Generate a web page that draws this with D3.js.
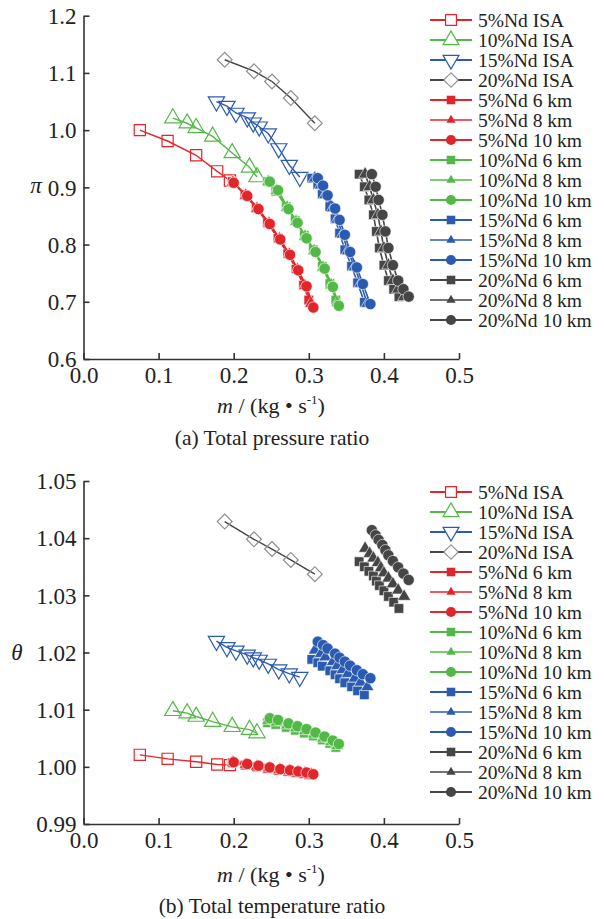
<!DOCTYPE html>
<html>
<head>
<meta charset="utf-8">
<script src="https://cdn.jsdelivr.net/npm/d3@7"></script>
<style>
  html, body { margin: 0; padding: 0; background: #fff; }
  svg { display: block; }
  text { font-family: "Liberation Serif", "Times New Roman", serif; fill: #222; }
</style>
</head>
<body>
<svg id="chart" width="604" height="919"></svg>
<script>
// ---------------- DATA ----------------
const xTicks = [0.0, 0.1, 0.2, 0.3, 0.4, 0.5];
const piTicks = [0.6, 0.7, 0.8, 0.9, 1.0, 1.1, 1.2];
const thetaTicks = [0.99, 1.00, 1.01, 1.02, 1.03, 1.04, 1.05];

// 5%Nd
const m_05_ISA = [0.075, 0.112, 0.150, 0.178, 0.195];
const pi_05_ISA = [1.000, 0.981, 0.956, 0.928, 0.912];
const th_05_ISA = [1.0021, 1.0014, 1.0009, 1.0004, 1.0003];
const m_05_6 = [0.198, 0.215, 0.230, 0.245, 0.259, 0.272, 0.283, 0.293, 0.300];
const pi_05_6 = [0.910, 0.887, 0.864, 0.838, 0.811, 0.784, 0.757, 0.729, 0.703];
const th_05_6 = [1.0007, 1.0003, 1.0000, 0.9997, 0.9994, 0.9992, 0.9990, 0.9988, 0.9986];
const m_05_8 = [0.199, 0.216, 0.231, 0.247, 0.261, 0.274, 0.285, 0.295, 0.303];
const pi_05_8 = [0.909, 0.886, 0.863, 0.837, 0.810, 0.783, 0.756, 0.728, 0.697];
const th_05_8 = [1.0008, 1.0004, 1.0001, 0.9998, 0.9995, 0.9993, 0.9991, 0.9989, 0.9987];
const m_05_10 = [0.200, 0.218, 0.233, 0.248, 0.262, 0.275, 0.286, 0.297, 0.306];
const pi_05_10 = [0.908, 0.885, 0.862, 0.836, 0.809, 0.782, 0.755, 0.727, 0.690];
const th_05_10 = [1.0008, 1.0005, 1.0002, 0.9999, 0.9996, 0.9994, 0.9992, 0.9990, 0.9987];

// 10%Nd
const m_10_ISA = [0.119, 0.138, 0.150, 0.172, 0.198, 0.221, 0.231];
const pi_10_ISA = [1.021, 1.012, 1.004, 0.989, 0.960, 0.935, 0.918];
const th_10_ISA = [1.0098, 1.0094, 1.0088, 1.0079, 1.0070, 1.0065, 1.0059];
const m_10_6 = [0.245, 0.256, 0.270, 0.282, 0.294, 0.306, 0.318, 0.328, 0.336];
const pi_10_6 = [0.910, 0.893, 0.866, 0.842, 0.816, 0.791, 0.762, 0.732, 0.703];
const th_10_6 = [1.0077, 1.0074, 1.0069, 1.0064, 1.0059, 1.0054, 1.0047, 1.0041, 1.0034];
const m_10_8 = [0.246, 0.257, 0.271, 0.283, 0.295, 0.307, 0.319, 0.330, 0.338];
const pi_10_8 = [0.910, 0.894, 0.865, 0.840, 0.814, 0.789, 0.760, 0.729, 0.698];
const th_10_8 = [1.0081, 1.0078, 1.0073, 1.0068, 1.0063, 1.0057, 1.0050, 1.0044, 1.0037];
const m_10_10 = [0.248, 0.259, 0.273, 0.285, 0.297, 0.309, 0.321, 0.332, 0.340];
const pi_10_10 = [0.910, 0.895, 0.862, 0.838, 0.811, 0.787, 0.758, 0.726, 0.693];
const th_10_10 = [1.0085, 1.0082, 1.0076, 1.0071, 1.0066, 1.0060, 1.0053, 1.0046, 1.0040];

// 15%Nd
const m_15_ISA = [0.177, 0.191, 0.203, 0.218, 0.226, 0.234, 0.246, 0.260, 0.274, 0.288];
const pi_15_ISA = [1.050, 1.042, 1.030, 1.022, 1.013, 1.006, 0.994, 0.968, 0.939, 0.918];
const th_15_ISA = [1.0220, 1.0209, 1.0203, 1.0196, 1.0191, 1.0187, 1.0180, 1.0170, 1.0163, 1.0157];
const m_15_6 = [0.304, 0.312, 0.318, 0.328, 0.335, 0.341, 0.348, 0.357, 0.365, 0.374];
const pi_15_6 = [0.916, 0.905, 0.888, 0.866, 0.845, 0.820, 0.791, 0.762, 0.733, 0.699];
const th_15_6 = [1.0188, 1.0182, 1.0176, 1.0168, 1.0161, 1.0154, 1.0147, 1.0140, 1.0133, 1.0126];
const m_15_8 = [0.308, 0.316, 0.322, 0.332, 0.338, 0.345, 0.352, 0.361, 0.369, 0.378];
const pi_15_8 = [0.916, 0.904, 0.887, 0.864, 0.844, 0.818, 0.789, 0.761, 0.732, 0.697];
const th_15_8 = [1.0204, 1.0198, 1.0192, 1.0184, 1.0177, 1.0170, 1.0163, 1.0155, 1.0148, 1.0140];
const m_15_10 = [0.312, 0.319, 0.325, 0.335, 0.341, 0.348, 0.355, 0.364, 0.372, 0.382];
const pi_15_10 = [0.916, 0.903, 0.886, 0.863, 0.843, 0.817, 0.787, 0.760, 0.731, 0.696];
const th_15_10 = [1.0219, 1.0213, 1.0207, 1.0198, 1.0191, 1.0184, 1.0177, 1.0169, 1.0162, 1.0155];

// 20%Nd
const m_20_ISA = [0.188, 0.227, 0.251, 0.276, 0.308];
const pi_20_ISA = [1.123, 1.103, 1.085, 1.056, 1.012];
const th_20_ISA = [1.0429, 1.0398, 1.0381, 1.0362, 1.0337];
const m_20_6 = [0.367, 0.374, 0.380, 0.386, 0.390, 0.394, 0.400, 0.406, 0.413, 0.420];
const pi_20_6 = [0.923, 0.901, 0.878, 0.852, 0.823, 0.794, 0.764, 0.737, 0.722, 0.709];
const th_20_6 = [1.0359, 1.0350, 1.0342, 1.0334, 1.0325, 1.0317, 1.0308, 1.0298, 1.0288, 1.0277];
const m_20_8 = [0.375, 0.381, 0.386, 0.392, 0.396, 0.400, 0.406, 0.412, 0.419, 0.427];
const pi_20_8 = [0.923, 0.901, 0.878, 0.852, 0.823, 0.794, 0.764, 0.737, 0.722, 0.709];
const th_20_8 = [1.0382, 1.0373, 1.0365, 1.0357, 1.0348, 1.0339, 1.0330, 1.0320, 1.0309, 1.0298];
const m_20_10 = [0.384, 0.389, 0.393, 0.398, 0.402, 0.406, 0.412, 0.419, 0.426, 0.433];
const pi_20_10 = [0.923, 0.901, 0.878, 0.852, 0.823, 0.794, 0.764, 0.737, 0.722, 0.709];
const th_20_10 = [1.0414, 1.0405, 1.0397, 1.0388, 1.0379, 1.0370, 1.0360, 1.0349, 1.0338, 1.0327];

const seriesNames = ["5%Nd ISA", "10%Nd ISA", "15%Nd ISA", "20%Nd ISA",
  "5%Nd 6 km", "5%Nd 8 km", "5%Nd 10 km",
  "10%Nd 6 km", "10%Nd 8 km", "10%Nd 10 km",
  "15%Nd 6 km", "15%Nd 8 km", "15%Nd 10 km",
  "20%Nd 6 km", "20%Nd 8 km", "20%Nd 10 km"];

// ---------------- STYLE ----------------
const RED = "#e0262a", GREEN = "#52b946", BLUE = "#2b5bb0", DARK = "#454545", LIGHT = "#8e8e8e";
const series = [
  {m: m_05_ISA, pi: pi_05_ISA, th: th_05_ISA, color: RED, stroke: RED, shape: "square", open: true},
  {m: m_10_ISA, pi: pi_10_ISA, th: th_10_ISA, color: GREEN, stroke: GREEN, shape: "tri", open: true},
  {m: m_15_ISA, pi: pi_15_ISA, th: th_15_ISA, color: BLUE, stroke: BLUE, shape: "tridown", open: true},
  {m: m_20_ISA, pi: pi_20_ISA, th: th_20_ISA, color: DARK, stroke: LIGHT, shape: "diamond", open: true},
  {m: m_05_6, pi: pi_05_6, th: th_05_6, color: RED, shape: "fsquare"},
  {m: m_05_8, pi: pi_05_8, th: th_05_8, color: RED, shape: "ftri"},
  {m: m_05_10, pi: pi_05_10, th: th_05_10, color: RED, shape: "circle"},
  {m: m_10_6, pi: pi_10_6, th: th_10_6, color: GREEN, shape: "fsquare"},
  {m: m_10_8, pi: pi_10_8, th: th_10_8, color: GREEN, shape: "ftri"},
  {m: m_10_10, pi: pi_10_10, th: th_10_10, color: GREEN, shape: "circle"},
  {m: m_15_6, pi: pi_15_6, th: th_15_6, color: BLUE, shape: "fsquare"},
  {m: m_15_8, pi: pi_15_8, th: th_15_8, color: BLUE, shape: "ftri"},
  {m: m_15_10, pi: pi_15_10, th: th_15_10, color: BLUE, shape: "circle"},
  {m: m_20_6, pi: pi_20_6, th: th_20_6, color: DARK, shape: "fsquare"},
  {m: m_20_8, pi: pi_20_8, th: th_20_8, color: DARK, shape: "ftri"},
  {m: m_20_10, pi: pi_20_10, th: th_20_10, color: DARK, shape: "circle"}
];
series.forEach((s, i) => s.name = seriesNames[i]);

function symbolPath(shape, scale) {
  const k = scale || 1;
  switch (shape) {
    case "square": return {d: d3.symbol(d3.symbolSquare, 125 * k)(), rot: 0};
    case "tri": return {d: d3.symbol(d3.symbolTriangle, 115 * k)(), rot: 0};
    case "tridown": return {d: d3.symbol(d3.symbolTriangle, 115 * k)(), rot: 180};
    case "diamond": return {d: d3.symbol(d3.symbolSquare, 110 * k)(), rot: 45};
    case "fsquare": return {d: d3.symbol(d3.symbolSquare, 92 * k)(), rot: 0};
    case "ftri": return {d: d3.symbol(d3.symbolTriangle, 75 * k)(), rot: 0};
    case "circle": return {d: d3.symbol(d3.symbolCircle, 100 * k)(), rot: 0};
  }
}

const svg = d3.select("#chart");
const FONT = '"Liberation Serif", "Times New Roman", serif';

function panel(cfg) {
  const x = d3.scaleLinear().domain([0, 0.5]).range([83.5, 459]);
  const y = d3.scaleLinear().domain(cfg.domain).range([cfg.bottom, cfg.top]);
  const g = svg.append("g");

  // axes
  const ax = g.append("g").attr("transform", `translate(0,${cfg.bottom})`)
    .call(d3.axisBottom(x).tickValues(xTicks).tickFormat(d3.format(".1f"))
      .tickSizeInner(-6).tickSizeOuter(0).tickPadding(7));
  const ay = g.append("g").attr("transform", `translate(83.5,0)`)
    .call(d3.axisLeft(y).tickValues(cfg.ticks).tickFormat(d3.format(cfg.fmt))
      .tickSizeInner(-6).tickSizeOuter(0).tickPadding(7));
  [ax, ay].forEach(a => {
    a.selectAll("path.domain").attr("stroke", "#333").attr("stroke-width", 1.6);
    a.selectAll(".tick line").attr("stroke", "#333").attr("stroke-width", 1.6);
    a.selectAll(".tick text").attr("font-family", FONT).attr("font-size", 23).attr("fill", "#222");
  });
  ax.selectAll(".tick text").attr("dy", "0.76em");
  ay.selectAll(".tick text").attr("dy", "0.34em");

  // series
  const line = d3.line();
  series.forEach(s => {
    const vals = s[cfg.key];
    const pts = s.m.map((mv, i) => [x(mv), y(vals[i])]);
    g.append("path").attr("d", line(pts)).attr("fill", "none")
      .attr("stroke", s.color).attr("stroke-width", s.open ? 1.4 : 1.6);
    const sp = symbolPath(s.shape);
    g.selectAll(null).data(pts).enter().append("path")
      .attr("d", sp.d)
      .attr("transform", p => `translate(${p[0]},${p[1]}) rotate(${sp.rot})`)
      .attr("fill", s.open ? "none" : s.color)
      .attr("stroke", s.open ? s.stroke : "#fff")
      .attr("stroke-width", s.open ? 1.2 : 0.6);
  });

  // axis labels
  g.append("text").attr("x", cfg.ylabX).attr("y", cfg.ylabY)
    .attr("text-anchor", "middle").attr("font-style", "italic").attr("font-size", 23)
    .attr("font-family", FONT).text(cfg.ylab);
  const xt = g.append("text").attr("x", 271).attr("y", cfg.xlabY)
    .attr("text-anchor", "middle").attr("font-size", 22).attr("font-family", FONT);
  xt.append("tspan").attr("font-style", "italic").text("m");
  xt.append("tspan").text(" / (kg • s");
  xt.append("tspan").attr("font-size", 13).attr("dy", -9).text("-1");
  xt.append("tspan").attr("dy", 9).text(")");
  g.append("text").attr("x", 272).attr("y", cfg.capY)
    .attr("text-anchor", "middle").attr("font-size", 21.5).attr("font-family", FONT)
    .text(cfg.caption);

  // legend
  const lg = g.append("g");
  series.forEach((s, i) => {
    const yy = cfg.legTop + 20 * i;
    lg.append("line").attr("x1", 430).attr("x2", 472).attr("y1", yy).attr("y2", yy)
      .attr("stroke", s.color).attr("stroke-width", s.shape === "ftri" ? 1.4 : 2);
    const small = s.shape === "ftri" ? 0.5 : (s.open ? 0.95 : 0.8);
    const sp = symbolPath(s.shape, small);
    lg.append("path").attr("d", sp.d)
      .attr("transform", `translate(451,${yy}) rotate(${sp.rot})`)
      .attr("fill", s.open ? "#fff" : s.color)
      .attr("stroke", s.open ? s.stroke : "none")
      .attr("stroke-width", 1.2);
    lg.append("text").attr("x", 478).attr("y", yy).attr("dy", "0.35em")
      .attr("font-size", 19.5).attr("font-family", FONT).text(s.name);
  });
}

panel({key: "pi", domain: [0.6, 1.2], top: 15.7, bottom: 359, ticks: piTicks, fmt: ".1f",
  ylab: "π", ylabX: 36, ylabY: 193, xlabY: 413, capY: 445, caption: "(a) Total pressure ratio", legTop: 20});
panel({key: "th", domain: [0.99, 1.05], top: 481, bottom: 824, ticks: thetaTicks, fmt: ".2f",
  ylab: "θ", ylabX: 17, ylabY: 660, xlabY: 882, capY: 913, caption: "(b) Total temperature ratio", legTop: 492});
</script>
</body>
</html>
